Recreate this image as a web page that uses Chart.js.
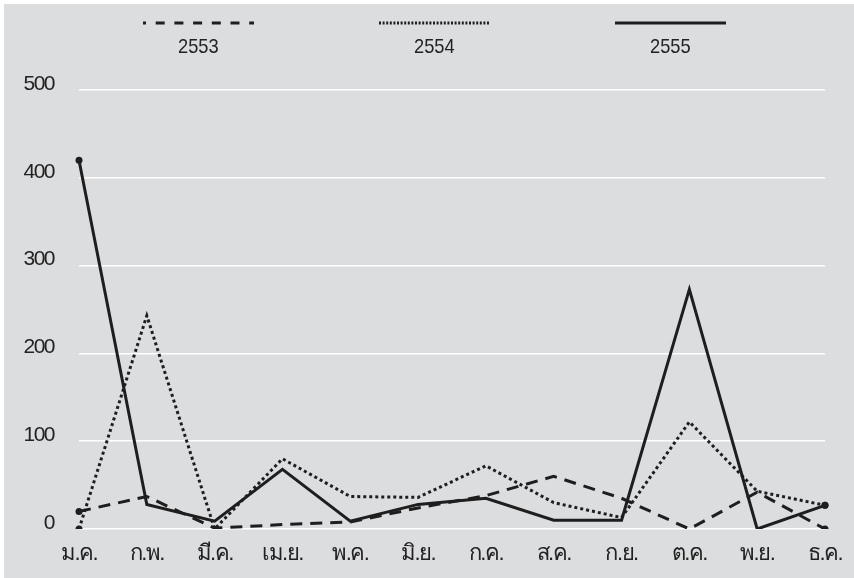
<!DOCTYPE html>
<html>
<head>
<meta charset="utf-8">
<script src="https://cdn.jsdelivr.net/npm/chart.js@4.4.0/dist/chart.umd.min.js"></script>
<style>
    html, body { margin: 0; background: #fff; }
    #wrap { position: absolute; left: 4px; top: 4px; width: 850px; height: 574px; background: #dcdddf; }
    #legend { position: absolute; left: 76px; top: 17px; display: flex; }
    .item { width: 236px; text-align: center; font: 21px/24px 'Liberation Sans', sans-serif; color: #222; }
    .item svg { display: block; margin: 0 auto 9px auto; }
    .item span { display: inline-block; transform: scaleX(0.87); }
    #chart { position: absolute; left: 0; top: 0; }
</style>
</head>
<body>
<div id="wrap">
    <canvas id="chart" width="850" height="574"></canvas>
    <div id="legend"></div>
</div>
<script>
const months = ['ม.ค.', 'ก.พ.', 'มี.ค.', 'เม.ย.', 'พ.ค.', 'มิ.ย.', 'ก.ค.', 'ส.ค.', 'ก.ย.', 'ต.ค.', 'พ.ย.', 'ธ.ค.'];
const years = ['2553', '2554', '2555'];
const v2553 = [20, 37, 1, 5, 8, 24, 38, 60, 35, 0, 42, 0];
const v2554 = [0, 243, 0, 80, 37, 36, 72, 30, 13, 122, 43, 27];
const v2555 = [420, 28, 9, 68, 9, 28, 35, 10, 10, 273, 0, 27];
const yTicks = [0, 100, 200, 300, 400, 500];

const ink = '#1e1e1e';
const font = "'Liberation Sans', sans-serif";
// dots only on the first and last month
const ends = months.map((m, i) => (i === 0 || i === months.length - 1) ? 3.5 : 0);

const dashes = [[12, 8], [3, 3], []];
const legendDashes = ['9 9.7', '2 1.6', ''];

// squeeze canvas text a bit, the original uses a condensed face
const narrowText = {
    id: 'narrowText',
    beforeDraw(chart) { chart.ctx.letterSpacing = '-1.5px'; }
};

let myChart = new Chart(document.getElementById('chart'), {
    type: 'line',
    data: {
        labels: months,
        datasets: [v2553, v2554, v2555].map((vals, i) => ({
            label: years[i],
            data: vals,
            borderColor: ink,
            backgroundColor: ink,
            borderWidth: 3,
            borderDash: dashes[i],
            pointRadius: ends,
            pointBorderWidth: 0,
            tension: 0,
            fill: false
        }))
    },
    options: {
        responsive: false,
        animation: false,
        layout: { padding: { left: 0, right: 29, top: 86, bottom: 0 } },
        plugins: { legend: { display: false }, tooltip: { enabled: false } },
        scales: {
            x: {
                grid: { display: false },
                border: { display: false },
                afterFit: axis => { axis.height = 49; },
                ticks: { color: '#222', font: { family: font, size: 22 }, padding: 4, maxRotation: 0, autoSkip: false }
            },
            y: {
                min: 0,
                max: 500,
                afterBuildTicks: axis => { axis.ticks = yTicks.map(v => ({ value: v })); },
                afterFit: axis => { axis.width = 75; },
                grid: { color: '#ffffff', lineWidth: 1.5, drawTicks: false },
                border: { display: false },
                ticks: { color: '#222', font: { family: font, size: 21 }, padding: 25, labelOffset: -6 }
            }
        }
    },
    plugins: [narrowText]
});

// legend: line sample above the year
const legend = document.getElementById('legend');
myChart.data.datasets.forEach((ds, i) => {
    const item = document.createElement('div');
    item.className = 'item';
    item.innerHTML = '<svg width="111" height="4"><line x1="0" y1="2" x2="111" y2="2" stroke="' + ink +
        '" stroke-width="3" stroke-dasharray="' + legendDashes[i] + '" stroke-dashoffset="' + (i === 0 ? 6 : 0) +
        '"/></svg><span>' + ds.label + '</span>';
    legend.appendChild(item);
});
</script>
</body>
</html>
